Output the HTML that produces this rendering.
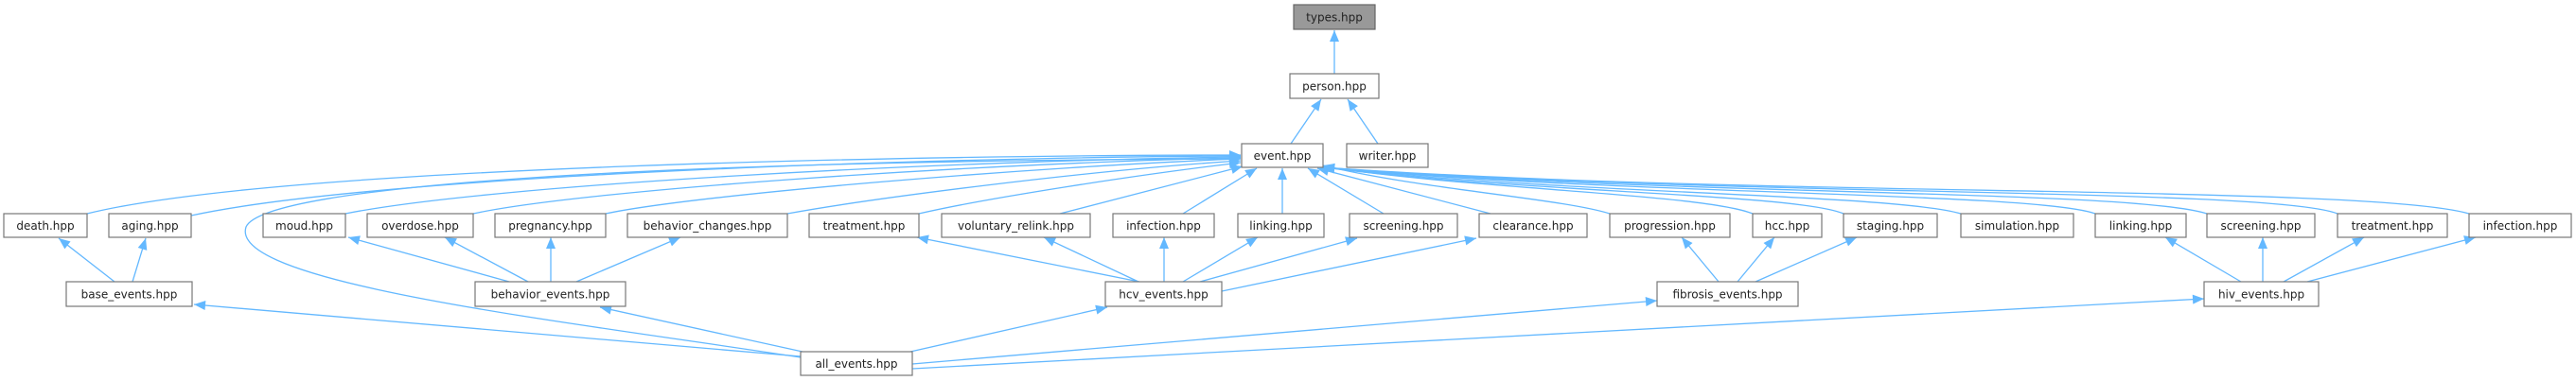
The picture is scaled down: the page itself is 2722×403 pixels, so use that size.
<!DOCTYPE html>
<html><head><meta charset="utf-8"><style>
html,body{margin:0;padding:0;background:#fff;width:2722px;height:403px;overflow:hidden}
svg{display:block}
text{font-family:"DejaVu Sans","Liberation Sans",sans-serif;font-size:12px;fill:#222}
.b{fill:#fff;stroke:#777;stroke-width:1.2}
.e{fill:none;stroke:#63b8ff;stroke-width:1.3;marker-start:url(#a)}
</style></head><body>
<svg width="2722" height="403" viewBox="0 0 2722 403">
<defs><marker id="a" markerUnits="userSpaceOnUse" markerWidth="13" markerHeight="10" refX="12" refY="5" orient="auto-start-reverse" style="overflow:visible"><path d="M0,0 L12,5 L0,10 Z" fill="#63b8ff"/></marker></defs>
<g>
<path class="e" d="M1410,32 L1410,78"/>
<path class="e" d="M1396,105 L1364,152"/>
<path class="e" d="M1424,105 L1456,152"/>
<path class="e" d="M1311,164 C1000,164 300,175 92,226"/>
<path class="e" d="M1311,165 C1000,166 400,185 202,228"/>
<path class="e" d="M1311,166 C1000,170 520,195 365,226"/>
<path class="e" d="M1311,167 C1050,172 620,200 500,226"/>
<path class="e" d="M1311,168 C1100,176 740,205 640,226"/>
<path class="e" d="M1311,170 C1150,180 920,210 832,226"/>
<path class="e" d="M1311,172 C1200,185 1040,210 971,226"/>
<path class="e" d="M1313,176 L1120,226"/>
<path class="e" d="M1328,178 L1250,226"/>
<path class="e" d="M1355,178 L1355,226"/>
<path class="e" d="M1382,178 L1462,226"/>
<path class="e" d="M1392,178 L1575,226"/>
<path class="e" d="M1311,168 C700,170 280,195 260,240 C240,300 600,340 846,378"/>
<path class="e" d="M1398,175 C1500,200 1650,210 1701,226"/>
<path class="e" d="M1398,176 C1550,200 1800,205 1852,226"/>
<path class="e" d="M1398,177 C1600,203 1900,205 1948,226"/>
<path class="e" d="M1398,177 C1650,205 2000,205 2072,226"/>
<path class="e" d="M1398,177 C1700,206 2150,203 2214,226"/>
<path class="e" d="M1398,177 C1750,207 2250,200 2332,226"/>
<path class="e" d="M1398,177 C1800,208 2400,198 2470,226"/>
<path class="e" d="M1398,177 C1850,209 2500,195 2609,226"/>
<path class="e" d="M62,252 L121,298"/>
<path class="e" d="M154,252 L140,298"/>
<path class="e" d="M368,251 L538,298"/>
<path class="e" d="M470,251 L558,298"/>
<path class="e" d="M582,251 L582,298"/>
<path class="e" d="M719,251 L609,298"/>
<path class="e" d="M969,251 L1204,298"/>
<path class="e" d="M1103,251 L1203,298"/>
<path class="e" d="M1230,251 L1230,298"/>
<path class="e" d="M1329,251 L1250,298"/>
<path class="e" d="M1434,252 L1268,298"/>
<path class="e" d="M1560,252 L1291,308"/>
<path class="e" d="M1777,251 L1816,298"/>
<path class="e" d="M1875,251 L1836,298"/>
<path class="e" d="M1962,251 L1855,298"/>
<path class="e" d="M2288,251 L2368,298"/>
<path class="e" d="M2391,251 L2391,298"/>
<path class="e" d="M2498,251 L2413,298"/>
<path class="e" d="M2616,251 L2438,298"/>
<path class="e" d="M205,322 L846,377"/>
<path class="e" d="M634,325 L848,372"/>
<path class="e" d="M1170,325 L962,372"/>
<path class="e" d="M1751,318 L964,385"/>
<path class="e" d="M2329,316 L964,390"/>
</g>
<g>
<rect x="1367" y="5" width="86" height="26" fill="#999" stroke="#666" stroke-width="1.2"/><text x="1410" y="22.5" text-anchor="middle">types.hpp</text>
<rect class="b" x="1363" y="78" width="94" height="26"/><text x="1410" y="95.5" text-anchor="middle">person.hpp</text>
<rect class="b" x="1312" y="152" width="86" height="25"/><text x="1355" y="169" text-anchor="middle">event.hpp</text>
<rect class="b" x="1423" y="152" width="86" height="25"/><text x="1466" y="169" text-anchor="middle">writer.hpp</text>

<rect class="b" x="4" y="226" width="88" height="25"/><text x="48" y="243" text-anchor="middle">death.hpp</text>
<rect class="b" x="115" y="226" width="87" height="25"/><text x="158.5" y="243" text-anchor="middle">aging.hpp</text>
<rect class="b" x="278" y="226" width="87" height="25"/><text x="321.5" y="243" text-anchor="middle">moud.hpp</text>
<rect class="b" x="388" y="226" width="112" height="25"/><text x="444" y="243" text-anchor="middle">overdose.hpp</text>
<rect class="b" x="523" y="226" width="117" height="25"/><text x="581.5" y="243" text-anchor="middle">pregnancy.hpp</text>
<rect class="b" x="663" y="226" width="169" height="25"/><text x="747.5" y="243" text-anchor="middle">behavior_changes.hpp</text>
<rect class="b" x="855" y="226" width="116" height="25"/><text x="913" y="243" text-anchor="middle">treatment.hpp</text>
<rect class="b" x="995" y="226" width="157" height="25"/><text x="1073.5" y="243" text-anchor="middle">voluntary_relink.hpp</text>
<rect class="b" x="1176" y="226" width="107" height="25"/><text x="1229.5" y="243" text-anchor="middle">infection.hpp</text>
<rect class="b" x="1308" y="226" width="91" height="25"/><text x="1353.5" y="243" text-anchor="middle">linking.hpp</text>
<rect class="b" x="1426" y="226" width="114" height="25"/><text x="1483" y="243" text-anchor="middle">screening.hpp</text>
<rect class="b" x="1563" y="226" width="114" height="25"/><text x="1620" y="243" text-anchor="middle">clearance.hpp</text>
<rect class="b" x="1701" y="226" width="127" height="25"/><text x="1764.5" y="243" text-anchor="middle">progression.hpp</text>
<rect class="b" x="1852" y="226" width="73" height="25"/><text x="1888.5" y="243" text-anchor="middle">hcc.hpp</text>
<rect class="b" x="1948" y="226" width="99" height="25"/><text x="1997.5" y="243" text-anchor="middle">staging.hpp</text>
<rect class="b" x="2072" y="226" width="119" height="25"/><text x="2131.5" y="243" text-anchor="middle">simulation.hpp</text>
<rect class="b" x="2214" y="226" width="96" height="25"/><text x="2262" y="243" text-anchor="middle">linking.hpp</text>
<rect class="b" x="2332" y="226" width="114" height="25"/><text x="2389" y="243" text-anchor="middle">screening.hpp</text>
<rect class="b" x="2470" y="226" width="116" height="25"/><text x="2528" y="243" text-anchor="middle">treatment.hpp</text>
<rect class="b" x="2609" y="226" width="108" height="25"/><text x="2663" y="243" text-anchor="middle">infection.hpp</text>

<rect class="b" x="70" y="298" width="133" height="26"/><text x="136.5" y="315.5" text-anchor="middle">base_events.hpp</text>
<rect class="b" x="502" y="298" width="159" height="26"/><text x="581.5" y="315.5" text-anchor="middle">behavior_events.hpp</text>
<rect class="b" x="1168" y="298" width="123" height="26"/><text x="1229.5" y="315.5" text-anchor="middle">hcv_events.hpp</text>
<rect class="b" x="1751" y="298" width="149" height="26"/><text x="1825.5" y="315.5" text-anchor="middle">fibrosis_events.hpp</text>
<rect class="b" x="2329" y="298" width="121" height="26"/><text x="2389.5" y="315.5" text-anchor="middle">hiv_events.hpp</text>
<rect class="b" x="846" y="372" width="118" height="25"/><text x="905" y="389" text-anchor="middle">all_events.hpp</text>
</g>
</svg>
</body></html>
